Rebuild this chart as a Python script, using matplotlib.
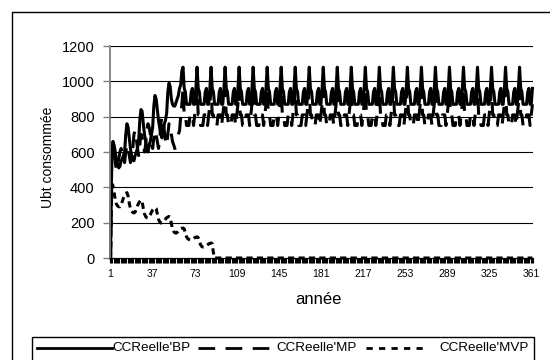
import numpy as np
import matplotlib
matplotlib.use("Agg")
import matplotlib.pyplot as plt
from matplotlib.lines import Line2D
from matplotlib.patches import Rectangle

plt.rcParams['font.family'] = ['Liberation Sans', 'DejaVu Sans']
plt.rcParams['lines.scale_dashes'] = False

# data
n_cat = 362
x_ticks = [1, 37, 73, 109, 145, 181, 217, 253, 289, 325, 361]
y_ticks = [0, 200, 400, 600, 800, 1000, 1200]
names = ["CCReelle'BP", "CCReelle'MP", "CCReelle'MVP"]

bp_start = [0, 600, 660, 640, 600, 560, 530, 510, 520, 550, 560, 580,
            600, 700, 760, 740, 680, 620, 580, 560, 550, 580, 600, 620,
            660, 780, 840, 830, 760, 700, 660, 620, 600, 640, 660, 700,
            740, 860, 920, 900, 840, 780, 740, 700, 680, 720, 760, 780,
            820, 940, 990, 970, 900, 870, 860, 860, 880, 900, 920, 960,
            980, 1060, 1080]
bp_cycle = [960, 940, 870, 870, 870, 870, 940, 960, 870, 870, 960, 1080]

mp_start = [0, 560, 600, 580, 540, 500, 520, 560, 600, 620, 600, 560,
            540, 600, 640, 620, 580, 540, 560, 620, 700, 720, 680, 620,
            580, 640, 700, 680, 640, 600, 640, 720, 760, 740, 700, 640,
            620, 680, 720, 700, 660, 620, 660, 760, 800, 780, 720, 660,
            640, 700, 760, 740, 700, 660, 640, 620, 580, np.nan, 700, 720,
            800, 870, 960]
mp_cycle = [810, 810, 750, 750, 750, 810, 810, 810, 750, 810, 870, 960]

mvp_start = [0, 420, 410, 370, 330, 305, 295, 290, 290, 300, 320, 340,
             355, 365, 370, 350, 310, 280, 265, 258, 255, 260, 275, 295,
             310, 320, 328, 320, 280, 250, 235, 228, 226, 232, 245, 260,
             272, 280, 285, 280, 250, 220, 205, 198, 200, 205, 212, 220,
             228, 232, 235, 230, 195, 165, 150, 143, 141, 145, 152, 160,
             165, 168, 170, 165, 140, 120, 110, 105, 102, 103, 106, 110,
             115, 118, 120, 115, 95, 75, 65, 62, 62, 65, 70, 75,
             80, 83, 85, 80, 30]

years = np.arange(1, n_cat + 1)
bp = (bp_start + bp_cycle * 30)[:n_cat]
mp = (mp_start + mp_cycle * 30)[:n_cat]
mvp = (mvp_start + [0] * n_cat)[:n_cat]

W, H = 550, 360

def fx(x):
    return x / W

def fy(y):
    return 1 - y / H

fig = plt.figure(figsize=(5.5, 3.6), dpi=100)
ax = fig.add_axes([fx(110), fy(258), fx(533) - fx(110), fy(46) - fy(258)])

ax.plot(years, bp, color='black', lw=2.2, clip_on=False)
ax.plot(years, mp, color='black', lw=2.2, dashes=(12, 7), clip_on=False)
ax.plot(years, mvp, color='black', lw=2.2, dashes=(4.5, 3), clip_on=False)

ax.set_xlim(0.5, n_cat + 0.5)
ax.set_ylim(0, 1200)
ax.set_yticks(y_ticks)
ax.set_xticks(x_ticks)
ax.set_xticks(np.arange(0.5, n_cat + 1), minor=True)
ax.tick_params(axis='x', which='major', length=0, labelsize=7.5, pad=8)
ax.tick_params(axis='x', which='minor', length=3.5, width=0.8, color='black')
ax.tick_params(axis='y', length=5, width=1, color='#808080', labelsize=10.5, pad=6)
ax.grid(axis='y', color='black', lw=0.8)
for s in ['top', 'right']:
    ax.spines[s].set_visible(False)
ax.spines['left'].set_color('#808080')
ax.spines['left'].set_linewidth(1.3)
ax.spines['bottom'].set_color('black')

fig.text(fx(48), fy(157), 'Ubt consommée', rotation=90, ha='center', va='center', fontsize=10)
fig.text(fx(318), fy(300), 'année', ha='center', va='center', fontsize=12)

# chart area border (right and bottom fall outside the picture)
fig.add_artist(Line2D([fx(12), fx(12), fx(552)], [fy(362), fy(12), fy(12)],
                      transform=fig.transFigure, color='black', lw=1))

# legend drawn by hand, Excel style
fig.add_artist(Rectangle((fx(32), fy(366)), fx(534) - fx(32), fy(337) - fy(366),
                         transform=fig.transFigure, fill=False, ec='black', lw=1))
ly = fy(348)
fig.add_artist(Line2D([fx(37), fx(112)], [ly, ly], transform=fig.transFigure, color='black', lw=2))
fig.add_artist(Line2D([fx(198), fx(276)], [ly, ly], transform=fig.transFigure, color='black',
                      lw=2, dashes=(12, 7.5)))
fig.add_artist(Line2D([fx(366), fx(427)], [ly, ly], transform=fig.transFigure, color='black',
                      lw=2, dashes=(4.5, 4.5)))
fig.text(fx(112), ly, names[0], ha='left', va='center', fontsize=9.7)
fig.text(fx(276), ly, names[1], ha='left', va='center', fontsize=9.7)
fig.text(fx(439), ly, names[2], ha='left', va='center', fontsize=9.7)

fig.savefig('out.png', dpi=100)
